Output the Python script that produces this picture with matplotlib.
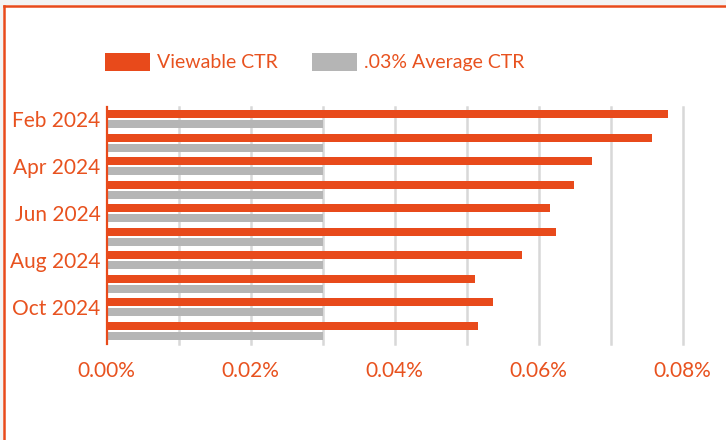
import matplotlib
matplotlib.use("Agg")
import matplotlib.pyplot as plt
import numpy as np
from matplotlib.lines import Line2D
from matplotlib.patches import Patch, Rectangle

# data (values in percent)
months = ['Feb 2024', 'Mar 2024', 'Apr 2024', 'May 2024', 'Jun 2024',
          'Jul 2024', 'Aug 2024', 'Sep 2024', 'Oct 2024', 'Nov 2024']
viewable_ctr = [0.0780, 0.0758, 0.0674, 0.0649, 0.0616,
                0.0624, 0.0577, 0.0511, 0.0536, 0.0516]
average_ctr = [0.03] * len(months)
xticks = [0.0, 0.01, 0.02, 0.03, 0.04, 0.05, 0.06, 0.07, 0.08]

orange = '#E84A1B'
text_orange = '#E8521F'
gray = '#B5B5B5'
grid_gray = '#D8D8D8'

plt.rcParams['font.family'] = ['Lato', 'DejaVu Sans']

W, H = 726, 440
fig = plt.figure(figsize=(W / 100, H / 100), dpi=100)
fig.patch.set_facecolor('white')

# axes box in pixels: left 107, right 682.7, top 107, bottom 344
ax = fig.add_axes([106.7 / W, 1 - 344 / H, (682.7 - 106.7) / W, (344 - 107) / H])

y = np.arange(len(months))
h = 0.34
ax.barh(y - 0.212, viewable_ctr, height=h, color=orange, zorder=3, label='Viewable CTR')
ax.barh(y + 0.212, average_ctr, height=h, color=gray, zorder=3, label='.03% Average CTR')

ax.set_xlim(0, 0.08)
ax.set_ylim(9.55, -0.51)

ax.set_xticks(xticks)
ax.set_xticklabels(['%.2f%%' % v if i % 2 == 0 else '' for i, v in enumerate(xticks)])
ax.set_yticks(y[::2])
ax.set_yticklabels(months[::2])

for v in xticks[1:]:
    ax.axvline(v, color=grid_gray, lw=1.8, zorder=1, clip_on=False)

for s in ['top', 'right', 'bottom']:
    ax.spines[s].set_visible(False)
ax.spines['left'].set_color(orange)
ax.spines['left'].set_linewidth(1.6)
ax.spines['left'].set_zorder(4)

ax.tick_params(axis='x', length=0, pad=12, labelsize=15, labelcolor=text_orange)
ax.tick_params(axis='y', length=0, pad=4.3, labelsize=15, labelcolor=text_orange)

handles = [Patch(facecolor=orange, edgecolor='none'), Patch(facecolor=gray, edgecolor='none')]
leg = fig.legend(handles, ['Viewable CTR', '.03% Average CTR'], loc='center left',
                 bbox_to_anchor=(105 / W, 1 - 62 / H), ncol=2, frameon=False,
                 fontsize=14, handlelength=2.3, handleheight=1.05,
                 handletextpad=0.35, columnspacing=1.8, borderpad=0, borderaxespad=0)
for t in leg.get_texts():
    t.set_color(text_orange)

# outer frame: light strip plus orange border on top and left
fig.add_artist(Rectangle((0, 1 - 5 / H), 1, 5 / H, transform=fig.transFigure,
                         facecolor='#F3F3F3', edgecolor='none'))
fig.add_artist(Rectangle((0, 0), 3 / W, 1, transform=fig.transFigure,
                         facecolor='#F3F3F3', edgecolor='none'))
fig.add_artist(Line2D([4 / W, 1], [1 - 6 / H, 1 - 6 / H], transform=fig.transFigure,
                      color=orange, lw=1.8))
fig.add_artist(Line2D([4 / W, 4 / W], [0, 1 - 6 / H], transform=fig.transFigure,
                      color=orange, lw=1.8))

fig.savefig('out.png', dpi=100)
